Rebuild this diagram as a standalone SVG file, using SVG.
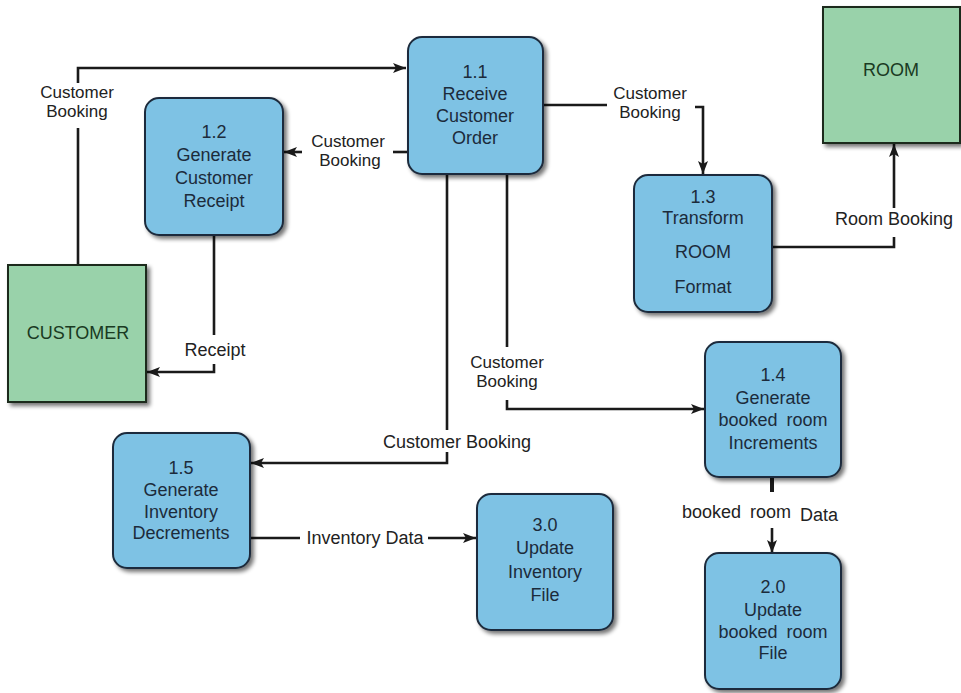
<svg xmlns="http://www.w3.org/2000/svg" width="961" height="693" viewBox="0 0 961 693">
<style>
.proc{fill:#7ec2e4;stroke:#1d2c3c;stroke-width:2}
.ent{fill:#99d2aa;stroke:#1d2c1f;stroke-width:2}
.nt{font-family:"Liberation Sans",Arial,sans-serif;font-size:18px;fill:#1c2b3b;text-anchor:middle}
.et{font-family:"Liberation Sans",Arial,sans-serif;font-size:18px;fill:#1a3a22;text-anchor:middle}
.lb{font-family:"Liberation Sans",Arial,sans-serif;font-size:18px;fill:#222;text-anchor:middle}
.l2{font-family:"Liberation Sans",Arial,sans-serif;font-size:17px;fill:#222;text-anchor:middle}
.cn{fill:none;stroke:#1a1a1a;stroke-width:2.6}
.ca{fill:none;stroke:#1a1a1a;stroke-width:2.6;marker-end:url(#arr)}
</style>
<defs>
<filter id="sh" x="-10%" y="-10%" width="130%" height="130%">
<feGaussianBlur in="SourceAlpha" stdDeviation="2"/>
<feOffset dx="3" dy="3" result="b"/>
<feComponentTransfer><feFuncA type="linear" slope="0.55"/></feComponentTransfer>
<feMerge><feMergeNode/><feMergeNode in="SourceGraphic"/></feMerge>
</filter>
<marker id="arr" markerUnits="userSpaceOnUse" markerWidth="14" markerHeight="12" refX="13" refY="6" orient="auto">
<path d="M0,1 L13,6 L0,11 L3,6 z" fill="#1a1a1a"/>
</marker>
</defs>
<rect width="961" height="693" fill="#ffffff"/>

<g id="connectors">
<path class="cn" d="M78,265 V128"/>
<path class="ca" d="M78,83 V68 H406"/>
<text class="l2" x="77" y="98">Customer</text>
<text class="l2" x="77" y="117">Booking</text>

<path class="cn" d="M408,152 H393"/>
<path class="ca" d="M302,152 H284"/>
<text class="l2" x="348" y="147">Customer</text>
<text class="l2" x="350" y="166">Booking</text>

<path class="cn" d="M214,235 V335"/>
<path class="ca" d="M214,364 V372 H147"/>
<text class="lb" x="215" y="356">Receipt</text>

<path class="cn" d="M543,105 H607"/>
<path class="ca" d="M695,107 H703 V174"/>
<text class="l2" x="650" y="99">Customer</text>
<text class="l2" x="650" y="118">Booking</text>

<path class="cn" d="M772,247 H894 V237"/>
<path class="ca" d="M894,208 V144"/>
<text class="lb" x="894" y="225">Room Booking</text>

<path class="cn" d="M507,174 V347"/>
<path class="ca" d="M507,400 V409 H704"/>
<text class="l2" x="507" y="368">Customer</text>
<text class="l2" x="507" y="387">Booking</text>

<path class="cn" d="M447,174 V430"/>
<path class="ca" d="M447,452 V463 H251"/>
<text class="lb" x="383" y="448" style="text-anchor:start">Customer Booking</text>

<path class="cn" d="M250,538 H300"/>
<path class="ca" d="M428,538 H476"/>
<text class="lb" x="365" y="544">Inventory Data</text>

<path class="cn" d="M772,477 V492" style="stroke-width:4"/>
<path class="ca" d="M772,528 V553"/>
<text class="lb" x="682" y="518" style="text-anchor:start" word-spacing="4">booked room <tspan dy="3">Data</tspan></text>
</g>

<g id="customer">
<rect class="ent" x="8" y="265" width="138" height="137" filter="url(#sh)"/>
<text class="et" x="78" y="339">CUSTOMER</text>
</g>

<g id="room">
<rect class="ent" x="823" y="7" width="137" height="136" filter="url(#sh)"/>
<text class="et" x="891" y="76">ROOM</text>
</g>

<g id="p1_1">
<rect class="proc" x="408" y="37" width="135" height="137" rx="14" filter="url(#sh)"/>
<text class="nt" x="475" y="78">1.1</text>
<text class="nt" x="475" y="100">Receive</text>
<text class="nt" x="475" y="122">Customer</text>
<text class="nt" x="475" y="144">Order</text>
</g>

<g id="p1_2">
<rect class="proc" x="145" y="98" width="138" height="137" rx="14" filter="url(#sh)"/>
<text class="nt" x="214" y="138">1.2</text>
<text class="nt" x="214" y="161">Generate</text>
<text class="nt" x="214" y="184">Customer</text>
<text class="nt" x="214" y="207">Receipt</text>
</g>

<g id="p1_3">
<rect class="proc" x="634" y="175" width="138" height="137" rx="14" filter="url(#sh)"/>
<text class="nt" x="703" y="203">1.3</text>
<text class="nt" x="703" y="224">Transform</text>
<text class="nt" x="703" y="258">ROOM</text>
<text class="nt" x="703" y="293">Format</text>
</g>

<g id="p1_4">
<rect class="proc" x="705" y="342" width="136" height="135" rx="14" filter="url(#sh)"/>
<text class="nt" x="773" y="381">1.4</text>
<text class="nt" x="773" y="404">Generate</text>
<text class="nt" x="773" y="426" word-spacing="4">booked room</text>
<text class="nt" x="773" y="449">Increments</text>
</g>

<g id="p1_5">
<rect class="proc" x="113" y="433" width="137" height="135" rx="14" filter="url(#sh)"/>
<text class="nt" x="181" y="474">1.5</text>
<text class="nt" x="181" y="496">Generate</text>
<text class="nt" x="181" y="518">Inventory</text>
<text class="nt" x="181" y="539">Decrements</text>
</g>

<g id="p3_0">
<rect class="proc" x="477" y="494" width="136" height="136" rx="14" filter="url(#sh)"/>
<text class="nt" x="545" y="531">3.0</text>
<text class="nt" x="545" y="554">Update</text>
<text class="nt" x="545" y="578">Inventory</text>
<text class="nt" x="545" y="601">File</text>
</g>

<g id="p2_0">
<rect class="proc" x="705" y="553" width="136" height="136" rx="14" filter="url(#sh)"/>
<text class="nt" x="773" y="593">2.0</text>
<text class="nt" x="773" y="616">Update</text>
<text class="nt" x="773" y="638" word-spacing="4">booked room</text>
<text class="nt" x="773" y="659">File</text>
</g>
</svg>
